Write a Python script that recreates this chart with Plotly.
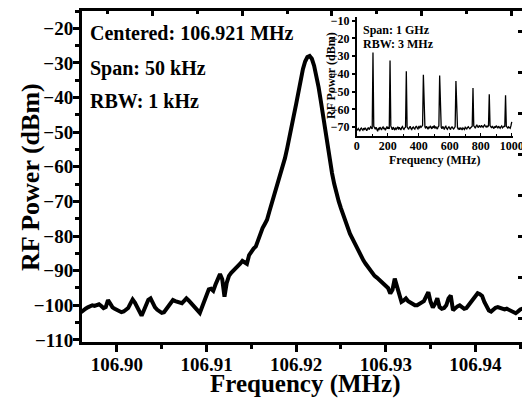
import numpy as np
import plotly.graph_objects as go

# ---------------- data ----------------
# Main spectrum: RF power (dBm) sampled across the 50 kHz span (106.896 - 106.946 MHz)
main_start = 106.896
main_stop = 106.946
main_power = [
    -102, -101.4, -101, -100.6, -100.3, -100, -100.2, -99.8, -99.7, -100.2,
    -100.8, -100.5, -98.5, -99.5, -100.6, -101, -101.4, -101.6, -102, -101.8,
    -101.3, -100.8, -99.5, -98.3, -99.2, -100.6, -102, -103, -101.5, -99.6,
    -98.4, -98, -99.7, -100.6, -101.3, -101.8, -102.2, -102, -101.2, -100.4,
    -99.2, -98.5, -98.8, -99.1, -99.3, -99.4, -98.7, -98, -98.6, -99.3,
    -100, -101, -101.6, -102.2, -100.5, -98.8, -96.8, -95.4, -95.2, -95.8,
    -94, -92.6, -91, -92.5, -97.5, -93.5, -91.5, -90.6, -90, -89.4,
    -88.8, -88, -87.2, -87.5, -88, -85.5, -84.3, -83.6, -83, -81,
    -79, -77.7, -76.5, -75.3, -73, -70.8, -68.8, -66.8, -64.8, -62.5,
    -60.2, -57.5, -54.6, -51.8, -48.5, -45, -41.8, -38.2, -34.8, -31.8,
    -29.6, -28.3, -28, -28.8, -30.8, -33.5, -37, -41, -45.5, -50,
    -54, -58, -61.8, -65, -67.8, -70, -72, -74, -76, -77.8,
    -79.3, -80.6, -82, -83.4, -84.8, -86, -87, -88, -89, -90,
    -90.8, -91.5, -92, -92.6, -93.2, -93.5, -94.2, -95, -96.6, -95.5,
    -92.3, -94.8, -97.5, -99, -98.6, -98, -98.8, -99.2, -99.6, -100,
    -100, -99.5, -99, -98.8, -97.5, -96.2, -99, -100.6, -99.6, -98,
    -100.5, -101, -100.8, -100, -98, -97.2, -101.4, -100.8, -100.3, -100,
    -100.5, -101, -100.8, -100, -99.2, -98.5, -97.5, -96.5, -96.8, -97.3,
    -99, -100.3, -101.5, -101.8, -101.2, -100.7, -100.5, -100.8, -101, -101.2,
    -101, -101.3, -101.6, -102, -102.3, -101.8, -101.2, -101, -101.2, -101.5,
    -101.3,
]
main_freq = np.linspace(main_start, main_stop, len(main_power))

# Inset: 1 GHz span, 5 MHz sweep points
inset_start = 0
inset_stop = 1000
inset_power = [
    -72, -71.5, -70.8, -71.6, -72.2, -71, -70.5, -71.3, -71.8, -70.6,
    -71.2, -70.4, -71.5, -72, -70.9, -70.2, -71.4, -70.8, -69.8, -70.5, -71,
    -28,
    -69.5, -70.3, -71.2, -70.1, -71.5, -72.3, -70.8, -71.2, -70, -70.7,
    -71.6, -70.4, -69.9, -71.1, -70.5, -71.8, -70.2, -69.6, -70.9, -70.3, -71,
    -32.5,
    -69.3, -70.5, -71.5, -70, -70.8, -71.7, -70.3, -71.2, -70.6, -69.8,
    -71.4, -70.1, -70.9, -71.6, -70.2, -69.7, -70.8, -71.3, -70.4, -70,
    -38.5,
    -69.8, -70.6, -71.2, -70.2, -69.5, -70.9, -71.4, -70.3, -69.9, -70.7,
    -71.1, -70, -69.4, -70.5, -71, -69.8, -70.3, -69.2, -70.1, -69.6, -69,
    -40.5,
    -68.8, -69.9, -70.7, -69.5, -70.3, -71.2, -69.8, -70.6, -69.3, -70.1,
    -71, -69.6, -70.4, -69.1, -70.8, -69.7, -70.2, -71.1, -69.9, -69.4,
    -41,
    -69.2, -70.1, -70.9, -69.6, -70.4, -71.3, -70, -69.5, -70.7, -71.2,
    -70.3, -69.8, -70.6, -71.4, -70.2, -69.9, -70.5, -71, -70.4, -69.7,
    -44,
    -69.4, -70.2, -71.1, -70.6, -71.5, -70.3, -70.9, -71.6, -70.4, -70.8,
    -71.3, -70.1, -70.6, -71, -70.2, -69.8, -70.4, -70.9, -70.3, -69.9, -69.5,
    -48,
    -69.3, -69.9, -70.6, -69.4, -68.9, -69.7, -70.3, -69.1, -69.6, -70.2,
    -69, -69.5, -70.1, -69.3, -68.8, -69.6, -70, -69.4, -69.8, -69.2,
    -51.5,
    -69.1, -69.8, -70.5, -69.4, -70.2, -70.8, -69.6, -70.3, -69.2, -69.9,
    -70.6, -69.5, -70.1, -70.7, -69.8, -69.3, -70.4, -70, -69.5, -69.8,
    -52,
    -69.5, -70.2, -70.6, -69.8, -70.3, -70.7, -69.2, -67,
]
inset_freq = np.linspace(inset_start, inset_stop, len(inset_power))

main_texts = ["Centered: 106.921 MHz", "Span: 50 kHz", "RBW: 1 kHz"]
inset_texts = ["Span: 1 GHz", "RBW: 3 MHz"]
x_title = "Frequency (MHz)"
y_title = "RF Power (dBm)"

# ---------------- layout helpers ----------------
W, H = 522, 401
L, R, T, B = 82, 0, 11, 59
PW, PH = W - L - R, H - T - B


def px(x):
    return (x - L) / PW


def py(y):
    return (H - B - y) / PH


FONT = "Liberation Serif, Times New Roman, serif"

fig = go.Figure()
fig.add_trace(go.Scatter(x=main_freq, y=main_power, mode="lines",
                         line=dict(color="black", width=4), showlegend=False,
                         hoverinfo="skip"))
fig.add_trace(go.Scatter(x=inset_freq, y=inset_power, mode="lines",
                         line=dict(color="black", width=1.3), showlegend=False,
                         xaxis="x4", yaxis="y4", hoverinfo="skip"))
# invisible helpers so the mirror axes render
fig.add_trace(go.Scatter(x=[None], y=[None], xaxis="x2", yaxis="y", showlegend=False))
fig.add_trace(go.Scatter(x=[None], y=[None], xaxis="x", yaxis="y3", showlegend=False))

xr = [106.8961, 106.9452]
top_shift = 0.00602

fig.update_layout(
    width=W, height=H,
    margin=dict(l=L, r=R, t=T, b=B, pad=0, autoexpand=False),
    paper_bgcolor="white", plot_bgcolor="white",
    font=dict(family=FONT, color="black"),
    xaxis=dict(
        range=xr, tick0=106.90, dtick=0.01, tickformat=".2f", automargin=False,
        ticks="outside", ticklen=7, tickwidth=3, tickcolor="black",
        ticklabelstandoff=-4,
        minor=dict(dtick=0.005, ticks="outside", ticklen=4, tickwidth=2.5, tickcolor="black"),
        showline=True, linewidth=3, linecolor="black", mirror=False,
        showgrid=False, zeroline=False,
        tickfont=dict(size=19, family=FONT, weight="bold"),
    ),
    yaxis=dict(
        range=[-110.6, -15], tick0=-110, dtick=10, automargin=False,
        ticks="outside", ticklen=6, tickwidth=3, tickcolor="black",
        ticklabelstandoff=-4,
        minor=dict(dtick=5, ticks="outside", ticklen=4, tickwidth=2.5, tickcolor="black"),
        showline=True, linewidth=3, linecolor="black", mirror=False,
        showgrid=False, zeroline=False,
        tickfont=dict(size=19, family=FONT, weight="bold"),
    ),
    xaxis2=dict(
        overlaying="x", side="top", anchor="y", automargin=False,
        range=[xr[0] + top_shift, xr[1] + top_shift], tick0=106.90, dtick=0.01,
        ticks="inside", ticklen=5, tickwidth=3, tickcolor="black",
        minor=dict(dtick=0.005, ticks="inside", ticklen=3, tickwidth=2.5, tickcolor="black"),
        showticklabels=False, showline=True, linewidth=3, linecolor="black",
        showgrid=False, zeroline=False,
    ),
    yaxis3=dict(
        overlaying="y", side="right", anchor="x", automargin=False,
        range=[-7.585, 0.488], tick0=0, dtick=1,
        ticks="inside", ticklen=4, tickwidth=3, tickcolor="black",
        showticklabels=False, showline=False, showgrid=False, zeroline=False,
    ),
    xaxis4=dict(
        domain=[px(356.7), px(513.3)], anchor="y4", automargin=False,
        range=[0, 1010], tick0=0, dtick=200, ticklabeloverflow="allow",
        ticks="inside", ticklen=3, tickwidth=1, tickcolor="black",
        ticklabelstandoff=-2,
        minor=dict(dtick=100, ticks="inside", ticklen=2, tickwidth=1, tickcolor="black"),
        showline=True, linewidth=1.5, linecolor="black",
        showgrid=False, zeroline=False,
        tickfont=dict(size=12, family=FONT, weight="bold"),
    ),
    yaxis4=dict(
        domain=[py(136), py(17)], anchor="x4", automargin=False,
        range=[-75, -8], tick0=-70, dtick=10,
        ticks="outside", ticklen=3, tickwidth=1.5, tickcolor="black",
        showline=True, linewidth=1.5, linecolor="black",
        showgrid=False, zeroline=False,
        tickfont=dict(size=12, family=FONT, weight="bold"),
    ),
)

ann = []
for txt, y in zip(main_texts, [33, 68, 101]):
    ann.append(dict(text=txt, x=px(88), y=py(y), xref="paper", yref="paper",
                    xanchor="left", yanchor="middle", showarrow=False,
                    font=dict(size=20, family=FONT, weight="bold", color="black")))
for txt, y in zip(inset_texts, [30, 44]):
    ann.append(dict(text=txt, x=px(361), y=py(y), xref="paper", yref="paper",
                    xanchor="left", yanchor="middle", showarrow=False,
                    font=dict(size=12, family=FONT, weight="bold", color="black")))
ann.append(dict(text=y_title, x=px(331), y=py(76), xref="paper", yref="paper",
                xanchor="center", yanchor="middle", textangle=-90, showarrow=False,
                font=dict(size=12, family=FONT, weight="bold", color="black")))
ann.append(dict(text=x_title, x=px(434), y=py(160), xref="paper", yref="paper",
                xanchor="center", yanchor="middle", showarrow=False,
                font=dict(size=12, family=FONT, weight="bold", color="black")))
# main axis titles
ann.append(dict(text=x_title, x=px(305), y=py(384), xref="paper", yref="paper",
                xanchor="center", yanchor="middle", showarrow=False,
                font=dict(size=25, family=FONT, weight="bold", color="black")))
ann.append(dict(text=y_title, x=px(30), y=py(177), xref="paper", yref="paper",
                xanchor="center", yanchor="middle", textangle=-90, showarrow=False,
                font=dict(size=26, family=FONT, weight="bold", color="black")))
fig.update_layout(annotations=ann)

fig.write_html("out.html", config={"displayModeBar": False},
               post_script="document.body.style.margin='0px';document.body.style.overflow='hidden';")
